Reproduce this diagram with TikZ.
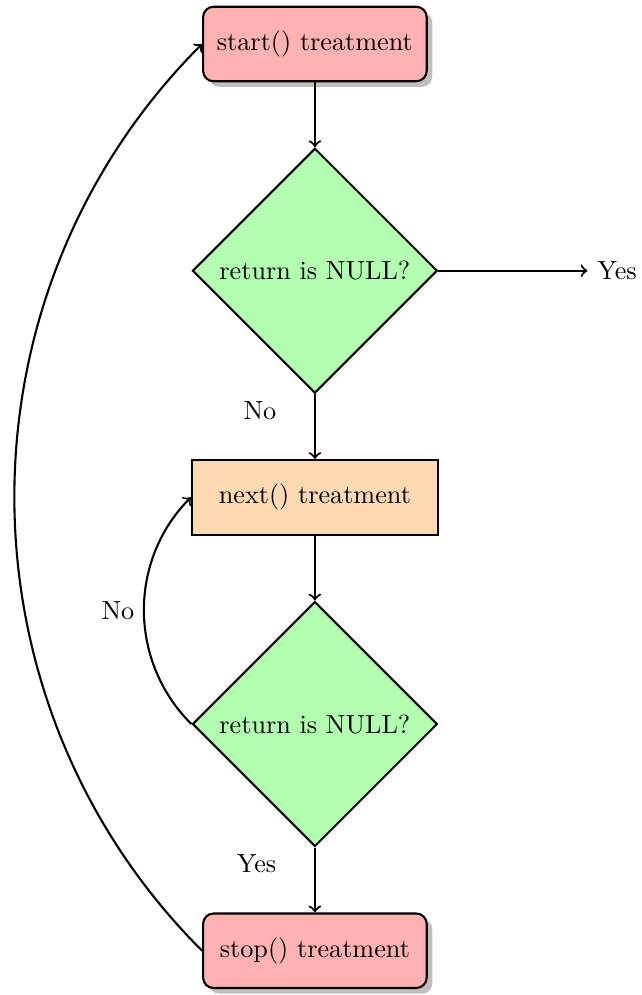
\documentclass[tikz,border=0pt]{standalone}
\usepackage{tikz}
\usetikzlibrary{
        positioning,
        shapes.geometric,
        shadows
    }
\tikzset{auto,node distance=0.87cm}
\tikzset{terminal/.style={rectangle,rounded corners,draw,fill=red!30,drop shadow,minimum width=3cm,minimum height=1cm}}
\tikzset{treatment/.style={rectangle,draw,fill=orange!30,minimum width=3.3cm,minimum height=1cm}}
\tikzset{decision/.style={diamond,draw,fill=green!30}}

\begin{document}
\begin{tikzpicture}[->,thick]
                \node[terminal] (start) {start() treatment};
                \node[decision] (test1) [below=of start] {return is NULL?};
                \node (yes1) [right=2cm of test1] {Yes};
                \node[treatment] (next) [below=of test1] {next() treatment};
                \node[decision] (test2) [below=of next] {return is NULL?};
                \node[terminal] (stop) [below=of test2] {stop() treatment};
                \path
                    (start)  edge  (test1)
                    (test1)  edge  (yes1)
                    (test1)  edge  node[near start,left=11pt] (no1) {No} (next)
                    (next)  edge  (test2)
                    (test2.west)  edge[bend left=45]  node (no2) {No} (next.west)
                    (test2)  edge  node[near start,left=11pt] (yes2) {Yes} (stop)
                    (stop.west)  edge[bend left=45]  (start.west)
                ;
                \pgfresetboundingbox
                \path[use as bounding box] ([shift={(-120.2pt,16.8pt)}]start.center) rectangle ++(245pt,-379.8pt);
            \end{tikzpicture}
\end{document}
